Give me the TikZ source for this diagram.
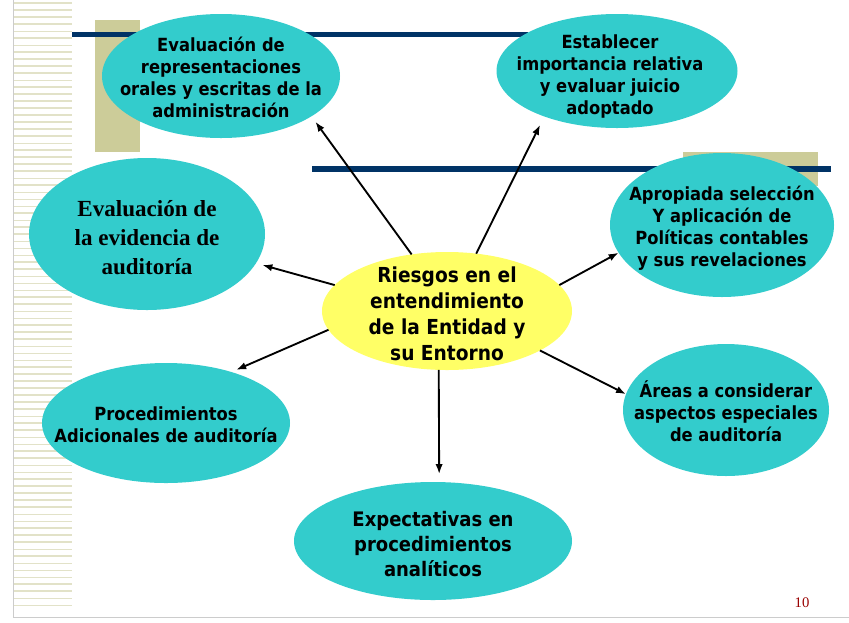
\documentclass[tikz,border=0pt]{standalone}
\usepackage{fontspec}
\setmainfont{DejaVu Sans}[FakeStretch=0.9]
\newfontfamily\tiempos{Liberation Serif}
\usetikzlibrary{shapes.geometric,arrows.meta}
\definecolor{turquesa}{RGB}{51,204,204}
\definecolor{amarillo}{RGB}{255,255,102}
\definecolor{azul}{RGB}{0,51,102}
\definecolor{caqui}{RGB}{204,204,153}
\definecolor{raya}{RGB}{226,226,200}
\definecolor{vino}{RGB}{153,0,0}
\newcommand{\textoglobo}[1]{\smash{\makebox[0pt]{\raisebox{-0.5em}{\begin{tabular}{@{}c@{}}#1\end{tabular}}}}}
\tikzset{
  globo/.style={ellipse,fill=turquesa,inner sep=0pt,outer sep=0pt,font=\bfseries\fontsize{13.6}{16.5}\selectfont},
  flecha/.style={-{Latex[length=7.5pt,width=5.5pt]},line width=1.4pt},
}
\begin{document}
\begin{tikzpicture}[x=0.75pt,y=-0.75pt]
\useasboundingbox (0,0) rectangle (849,622);
\fill[white] (0,0) rectangle (849,622);
\pgfmathsetseed{11}
\foreach \k in {0,...,86}{
  \pgfmathsetmacro{\g}{0.4+2.2*rnd}
  \draw[raya,line width=\g*0.75pt] (13,{7*\k+3}) -- (72,{7*\k+3});
}
\draw[gray!40] (13,0) -- (13,617) -- (849,617);
\fill[caqui] (95,20) rectangle (140,152);
\fill[caqui] (683,152) rectangle (818,186);
\draw[azul,line width=4.2pt] (72,34.5) -- (528,34.5);
\draw[azul,line width=5pt] (312,169) -- (831,169);

\path (221,76) node[globo,minimum width=178.5pt,minimum height=93pt] (ER) {\textoglobo{Evaluación de\\representaciones\\orales y escritas de la\\administración}};
\path (617,71) node[globo,minimum width=180.75pt,minimum height=85.5pt] (EI) {\kern-10.5pt\raisebox{-3pt}{\textoglobo{Establecer\\importancia relativa\\y evaluar juicio\\adoptado}}};
\path (147,234) node[globo,minimum width=177pt,minimum height=114pt,font=\tiempos\bfseries\fontsize{17.3}{21.4}\selectfont] (EE) {\textoglobo{Evaluación de\\la evidencia de\\auditoría}};
\path (722,225) node[globo,minimum width=168pt,minimum height=108pt] (AP) {\textoglobo{Apropiada selección\\Y aplicación de\\Políticas contables\\y sus revelaciones}};
\path (447,311) node[globo,fill=amarillo,minimum width=187.5pt,minimum height=88.5pt,font=\bfseries\fontsize{15.5}{19.5}\selectfont] (R) {\textoglobo{Riesgos en el\\entendimiento\\de la Entidad y\\su Entorno}};
\path (166,423) node[globo,minimum width=186pt,minimum height=90pt] (PA) {\textoglobo{Procedimientos\\Adicionales de auditoría}};
\path (726,410) node[globo,minimum width=154.5pt,minimum height=99pt] (AR) {\textoglobo{Áreas a considerar\\aspectos especiales\\de auditoría}};
\path (433,541) node[globo,minimum width=208.5pt,minimum height=88.5pt,font=\bfseries\fontsize{15}{18.75}\selectfont] (EX) {\textoglobo{Expectativas en\\procedimientos\\analíticos}};

\draw[flecha,shorten >=5pt] (R.122) -- (ER.336);
\draw[flecha,shorten >=7pt] (R.63) -- (EI.212);
\draw[flecha,shorten >=5pt] (R.167) -- (EE.345);
\draw[flecha] (R.13) -- (AP.195);
\draw[flecha,shorten >=4pt] (R.189) -- (PA.38);
\draw[flecha,shorten >=6pt] (R.262) -- (EX.84);
\draw[flecha] (R.337) -- (AR.171);

\path (802,603) node[font=\tiempos\fontsize{11}{13}\selectfont,text=vino] (pag) {10};
\end{tikzpicture}
\end{document}
